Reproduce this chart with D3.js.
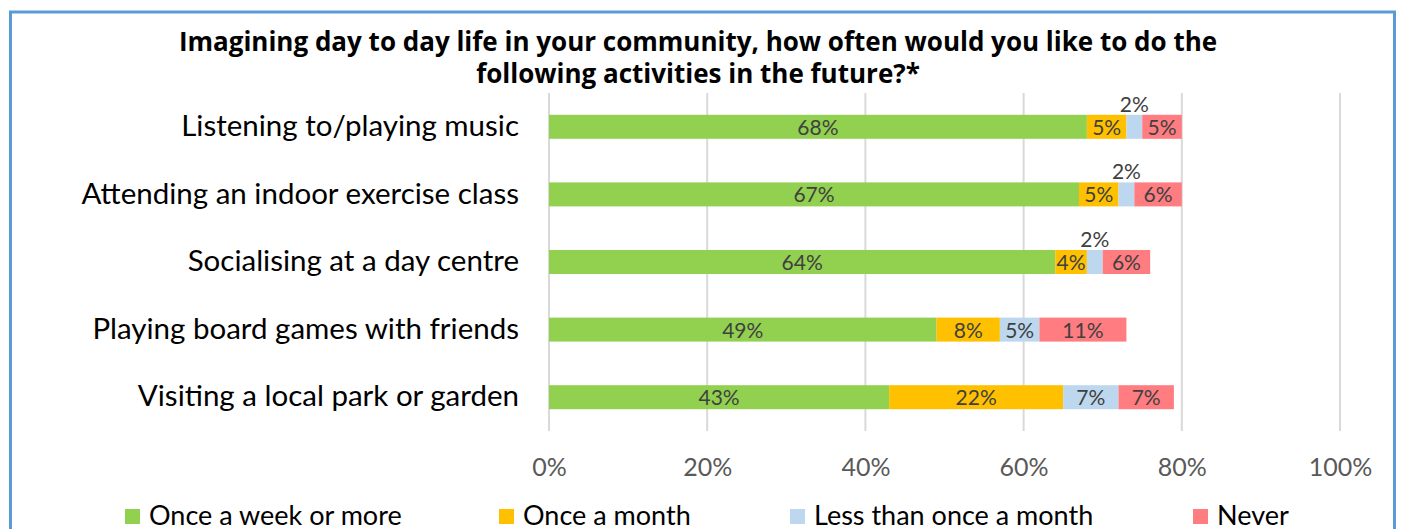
<!DOCTYPE html>
<html>
<head>
<meta charset="utf-8">
<script src="https://cdn.jsdelivr.net/npm/d3@7"></script>
<style>
  html, body { margin: 0; padding: 0; background: #ffffff; }
  svg { display: block; font-family: Lato, "Open Sans", sans-serif; }
</style>
</head>
<body>
<svg id="chart" width="1404" height="529"></svg>
<script>
// Activities (top to bottom) and the share of respondents per frequency, in percent
const activities = [
  "Listening to/playing music",
  "Attending an indoor exercise class",
  "Socialising at a day centre",
  "Playing board games with friends",
  "Visiting a local park or garden"
];
const seriesNames = ["Once a week or more", "Once a month", "Less than once a month", "Never"];
const weekly   = [68, 67, 64, 49, 43];
const monthly  = [5, 5, 4, 8, 22];
const lessThan = [2, 2, 2, 5, 7];
const never    = [5, 6, 6, 11, 7];
const tickValues = [0, 20, 40, 60, 80, 100];
const colors = ["#92d050", "#ffc000", "#bdd7ee", "#ff7c80"];

const seriesValues = [weekly, monthly, lessThan, never];
const rows = activities.map((a, i) => {
  const r = { activity: a };
  seriesNames.forEach((s, k) => { r[s] = seriesValues[k][i]; });
  return r;
});
const stacked = d3.stack().keys(seriesNames)(rows);

const svg = d3.select("#chart");

// outer frame
svg.append("rect")
  .attr("x", 10.5).attr("y", 12).attr("width", 1384).attr("height", 540)
  .attr("fill", "#fff").attr("stroke", "#5b9bd5").attr("stroke-width", 3);

// title
const title = svg.append("text")
  .attr("text-anchor", "middle")
  .attr("font-family", "'Open Sans', sans-serif")
  .attr("font-weight", "bold").attr("font-size", 26).attr("fill", "#000");
title.append("tspan").attr("x", 698).attr("y", 51)
  .text("Imagining day to day life in your community,  how often would you like to do the");
title.append("tspan").attr("x", 698).attr("y", 83)
  .text("following activities in the future?*");

const x = d3.scaleLinear().domain([0, 100]).range([549, 1340]);
const y = d3.scaleBand().domain(activities).range([93, 431]).paddingInner(0.645).paddingOuter(0.3225);

// vertical gridlines
svg.append("g").selectAll("line").data(tickValues).join("line")
  .attr("x1", d => x(d)).attr("x2", d => x(d))
  .attr("y1", 93).attr("y2", 431)
  .attr("stroke", "#d9d9d9").attr("stroke-width", 2);

// x axis tick labels
const xAxis = d3.axisBottom(x).tickValues(tickValues).tickFormat(d => d + "%").tickSize(0).tickPadding(0);
const gx = svg.append("g").attr("transform", "translate(0,476)").call(xAxis);
gx.select(".domain").remove();
gx.selectAll("text").attr("font-size", 25).attr("fill", "#595959")
  .attr("font-family", "Lato, sans-serif").attr("dy", 0);

// category labels
const yAxis = d3.axisLeft(y).tickSize(0).tickPadding(0);
const gy = svg.append("g").attr("transform", "translate(519,0)").call(yAxis);
gy.select(".domain").remove();
gy.selectAll("text").attr("font-size", 29.5).attr("fill", "#000")
  .attr("font-family", "Lato, sans-serif").attr("dy", "0.31em");

// stacked bars
const layers = svg.append("g").selectAll("g").data(stacked).join("g")
  .attr("fill", (d, i) => colors[i]);
layers.selectAll("rect").data(d => d).join("rect")
  .attr("x", d => x(d[0]))
  .attr("y", d => y(d.data.activity))
  .attr("width", d => x(d[1]) - x(d[0]))
  .attr("height", y.bandwidth());

// value labels: small segments get their label above the bar
const labels = svg.append("g").attr("font-size", 21).attr("fill", "#404040").attr("text-anchor", "middle");
stacked.forEach(layer => {
  layer.forEach(d => {
    const v = d[1] - d[0];
    const cx = (x(d[0]) + x(d[1])) / 2;
    const above = v <= 2;
    labels.append("text")
      .attr("x", cx)
      .attr("y", above ? y(d.data.activity) - 3 : y(d.data.activity) + y.bandwidth() / 2)
      .attr("dy", above ? 0 : "0.38em")
      .text(v + "%");
  });
});

// legend
const legendX = [125, 499, 790, 1193];
const legend = svg.append("g").selectAll("g").data(seriesNames).join("g")
  .attr("transform", (d, i) => `translate(${legendX[i]},0)`);
legend.append("rect").attr("x", 0).attr("y", 509).attr("width", 15).attr("height", 15)
  .attr("fill", (d, i) => colors[i]);
legend.append("text").attr("x", 24).attr("y", 525).attr("font-size", 27).attr("fill", "#000")
  .text(d => d);
</script>
</body>
</html>
